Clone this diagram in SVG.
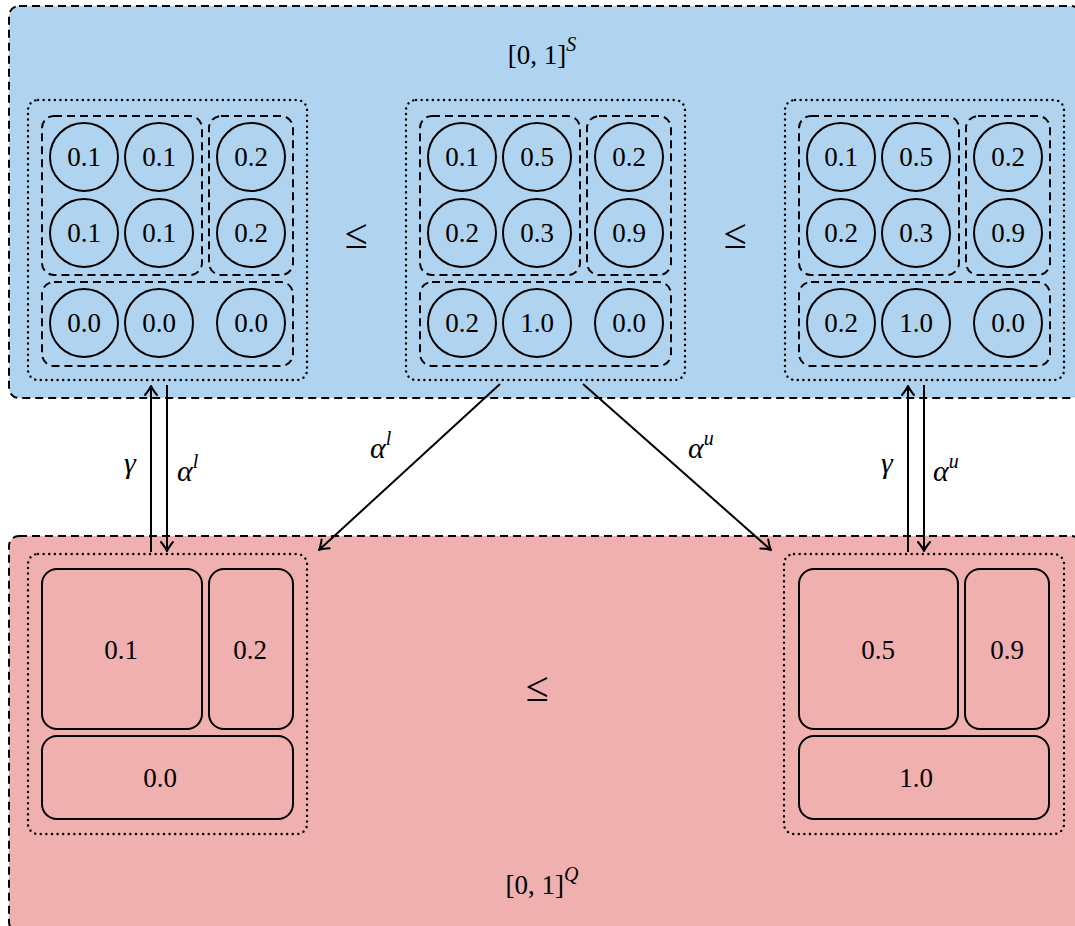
<svg xmlns="http://www.w3.org/2000/svg" width="1075" height="926" viewBox="0 0 1075 926">
<style>
.bg{stroke:#000;stroke-width:2;stroke-dasharray:8 5}
.dot{fill:none;stroke:#000;stroke-width:2.4;stroke-dasharray:0.1 5.5;stroke-linecap:round}
.dash{fill:none;stroke:#000;stroke-width:2;stroke-dasharray:8 5}
.c{fill:none;stroke:#000;stroke-width:2}
.box{fill:none;stroke:#000;stroke-width:2}
.t{font-family:"Liberation Serif","DejaVu Serif",serif;font-size:27px;text-anchor:middle;fill:#000}
.le{font-family:"Liberation Serif","DejaVu Serif",serif;font-size:42px;text-anchor:middle;fill:#000}
.m{font-family:"Liberation Serif","DejaVu Serif",serif;font-size:30px;font-style:italic;fill:#000}
.sup{font-family:"Liberation Serif","DejaVu Serif",serif;font-size:20px;font-style:italic;fill:#000}
.ar{fill:none;stroke:#000;stroke-width:2}
</style>
<defs>
<marker id="ah" markerWidth="16" markerHeight="16" refX="0" refY="0" viewBox="-11 -8 13 16" orient="auto" markerUnits="userSpaceOnUse">
<path d="M-9,-6 Q-3.5,-1.5 0,0 Q-3.5,1.5 -9,6" fill="none" stroke="#000" stroke-width="2" stroke-linecap="round" stroke-linejoin="round"/>
</marker>
</defs>

<g id="setS">
<rect class="bg" x="9" y="6" width="1072" height="392" rx="10" fill="#b0d4ef"/>
<text class="t" x="542" y="64">[0, 1]<tspan class="sup" dy="-13">S</tspan></text>
</g>
<g id="setQ">
<rect class="bg" x="9" y="536" width="1072" height="396" rx="10" fill="#f0b0b0"/>
<text class="t" x="542" y="894">[0, 1]<tspan class="sup" dy="-13">Q</tspan></text>
</g>

<g id="clusterA">
<rect class="dot" x="28" y="100" width="279" height="280" rx="10"/>
<rect class="dash" x="42" y="116" width="160" height="159" rx="12"/>
<rect class="dash" x="209" y="116" width="84" height="159" rx="12"/>
<rect class="dash" x="42" y="282" width="251" height="84" rx="12"/>
<g id="a11"><circle class="c" cx="84" cy="157" r="34"/><text class="t" x="84" y="166">0.1</text></g>
<g id="a12"><circle class="c" cx="159" cy="157" r="34"/><text class="t" x="159" y="166">0.1</text></g>
<g id="a13"><circle class="c" cx="251" cy="157" r="34"/><text class="t" x="251" y="166">0.2</text></g>
<g id="a21"><circle class="c" cx="84" cy="233" r="34"/><text class="t" x="84" y="242">0.1</text></g>
<g id="a22"><circle class="c" cx="159" cy="233" r="34"/><text class="t" x="159" y="242">0.1</text></g>
<g id="a23"><circle class="c" cx="251" cy="233" r="34"/><text class="t" x="251" y="242">0.2</text></g>
<g id="a31"><circle class="c" cx="84" cy="323" r="34"/><text class="t" x="84" y="332">0.0</text></g>
<g id="a32"><circle class="c" cx="159" cy="323" r="34"/><text class="t" x="159" y="332">0.0</text></g>
<g id="a33"><circle class="c" cx="251" cy="323" r="34"/><text class="t" x="251" y="332">0.0</text></g>
</g>

<g id="clusterB" transform="translate(378,0)">
<rect class="dot" x="28" y="100" width="279" height="280" rx="10"/>
<rect class="dash" x="42" y="116" width="160" height="159" rx="12"/>
<rect class="dash" x="209" y="116" width="84" height="159" rx="12"/>
<rect class="dash" x="42" y="282" width="251" height="84" rx="12"/>
<g id="b11"><circle class="c" cx="84" cy="157" r="34"/><text class="t" x="84" y="166">0.1</text></g>
<g id="b12"><circle class="c" cx="159" cy="157" r="34"/><text class="t" x="159" y="166">0.5</text></g>
<g id="b13"><circle class="c" cx="251" cy="157" r="34"/><text class="t" x="251" y="166">0.2</text></g>
<g id="b21"><circle class="c" cx="84" cy="233" r="34"/><text class="t" x="84" y="242">0.2</text></g>
<g id="b22"><circle class="c" cx="159" cy="233" r="34"/><text class="t" x="159" y="242">0.3</text></g>
<g id="b23"><circle class="c" cx="251" cy="233" r="34"/><text class="t" x="251" y="242">0.9</text></g>
<g id="b31"><circle class="c" cx="84" cy="323" r="34"/><text class="t" x="84" y="332">0.2</text></g>
<g id="b32"><circle class="c" cx="159" cy="323" r="34"/><text class="t" x="159" y="332">1.0</text></g>
<g id="b33"><circle class="c" cx="251" cy="323" r="34"/><text class="t" x="251" y="332">0.0</text></g>
</g>

<g id="clusterC" transform="translate(757,0)">
<rect class="dot" x="28" y="100" width="279" height="280" rx="10"/>
<rect class="dash" x="42" y="116" width="160" height="159" rx="12"/>
<rect class="dash" x="209" y="116" width="84" height="159" rx="12"/>
<rect class="dash" x="42" y="282" width="251" height="84" rx="12"/>
<g id="c11"><circle class="c" cx="84" cy="157" r="34"/><text class="t" x="84" y="166">0.1</text></g>
<g id="c12"><circle class="c" cx="159" cy="157" r="34"/><text class="t" x="159" y="166">0.5</text></g>
<g id="c13"><circle class="c" cx="251" cy="157" r="34"/><text class="t" x="251" y="166">0.2</text></g>
<g id="c21"><circle class="c" cx="84" cy="233" r="34"/><text class="t" x="84" y="242">0.2</text></g>
<g id="c22"><circle class="c" cx="159" cy="233" r="34"/><text class="t" x="159" y="242">0.3</text></g>
<g id="c23"><circle class="c" cx="251" cy="233" r="34"/><text class="t" x="251" y="242">0.9</text></g>
<g id="c31"><circle class="c" cx="84" cy="323" r="34"/><text class="t" x="84" y="332">0.2</text></g>
<g id="c32"><circle class="c" cx="159" cy="323" r="34"/><text class="t" x="159" y="332">1.0</text></g>
<g id="c33"><circle class="c" cx="251" cy="323" r="34"/><text class="t" x="251" y="332">0.0</text></g>
</g>

<g id="leqTop1"><text class="le" x="356" y="248">≤</text></g>
<g id="leqTop2"><text class="le" x="735" y="248">≤</text></g>

<g id="clusterQ1">
<rect class="dot" x="28" y="554" width="279" height="280" rx="10"/>
<g id="q1a"><rect class="box" x="42" y="569" width="160" height="160" rx="15"/><text class="t" x="121" y="659">0.1</text></g>
<g id="q1b"><rect class="box" x="209" y="569" width="84" height="160" rx="15"/><text class="t" x="250" y="659">0.2</text></g>
<g id="q1c"><rect class="box" x="42" y="736" width="251" height="83" rx="15"/><text class="t" x="160" y="787">0.0</text></g>
</g>

<g id="clusterQ2">
<rect class="dot" x="784" y="554" width="280" height="280" rx="10"/>
<g id="q2a"><rect class="box" x="799" y="569" width="159" height="160" rx="15"/><text class="t" x="878" y="659">0.5</text></g>
<g id="q2b"><rect class="box" x="965" y="569" width="84" height="160" rx="15"/><text class="t" x="1007" y="659">0.9</text></g>
<g id="q2c"><rect class="box" x="799" y="736" width="250" height="83" rx="15"/><text class="t" x="916" y="787">1.0</text></g>
</g>

<g id="leqBottom"><text class="le" x="537" y="701">≤</text></g>

<g id="connectors">
<line class="ar" x1="151" y1="552" x2="151" y2="386" marker-end="url(#ah)"/>
<line class="ar" x1="167" y1="385" x2="167" y2="551" marker-end="url(#ah)"/>
<line class="ar" x1="908" y1="552" x2="908" y2="386" marker-end="url(#ah)"/>
<line class="ar" x1="924" y1="385" x2="924" y2="551" marker-end="url(#ah)"/>
<line class="ar" x1="500" y1="384" x2="319" y2="550" marker-end="url(#ah)"/>
<line class="ar" x1="583" y1="384" x2="771" y2="550" marker-end="url(#ah)"/>
<text class="m" x="124" y="473">γ</text>
<text class="m" x="177" y="481">α<tspan class="sup" dy="-13">l</tspan></text>
<text class="m" x="881" y="473">γ</text>
<text class="m" x="933" y="481">α<tspan class="sup" dy="-13">u</tspan></text>
<text class="m" x="370" y="458">α<tspan class="sup" dy="-13">l</tspan></text>
<text class="m" x="688" y="458">α<tspan class="sup" dy="-13">u</tspan></text>
</g>
</svg>
